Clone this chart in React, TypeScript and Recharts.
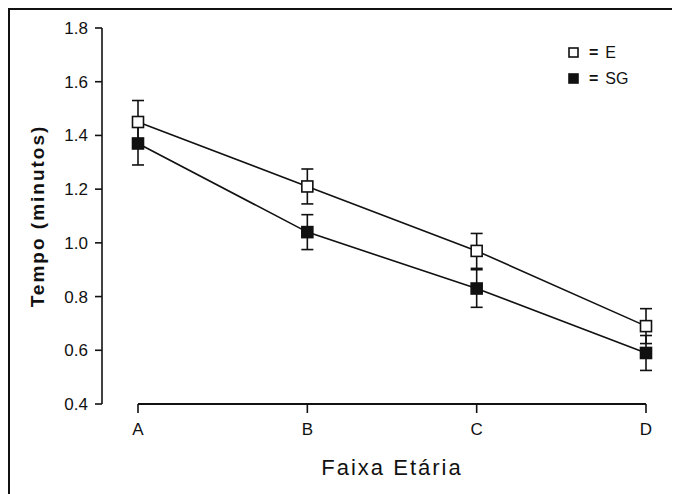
import React from "react";
import {
  LineChart,
  Line,
  XAxis,
  YAxis,
  ErrorBar,
  ReferenceLine,
} from "recharts";

// age groups along the x axis
const categories = ["A", "B", "C", "D"];
// mean time (minutes) and error for each group
const valuesE = [1.45, 1.21, 0.97, 0.69];
const errorsE = [0.08, 0.065, 0.065, 0.065];
const valuesSG = [1.37, 1.04, 0.83, 0.59];
const errorsSG = [0.08, 0.065, 0.07, 0.065];
const yTicks = [0.4, 0.6, 0.8, 1.0, 1.2, 1.4, 1.6, 1.8];
const seriesNames = ["E", "SG"];

const data = categories.map((c, i) => ({
  idx: i,
  name: c,
  E: valuesE[i],
  errE: errorsE[i],
  SG: valuesSG[i],
  errSG: errorsSG[i],
}));

const INK = "#111";
const FONT = "'Liberation Sans', Arial, sans-serif";

const SquareDot = (filled: boolean) => (props: any) => {
  const { cx, cy } = props;
  if (cx == null || cy == null) return null;
  const s = 11;
  return (
    <rect
      x={cx - s / 2}
      y={cy - s / 2}
      width={s}
      height={s}
      fill={filled ? INK : "#fff"}
      stroke={INK}
      strokeWidth={1.6}
    />
  );
};

// legend in the upper right corner
const LegendBox = () => (
  <div
    style={{
      position: "absolute",
      top: 30,
      left: 558,
      fontFamily: FONT,
      fontSize: 16,
      color: INK,
      lineHeight: "26px",
    }}
  >
    {seriesNames.map((label, i) => (
      <div key={label} style={{ display: "flex", alignItems: "center" }}>
        <svg width={12} height={12} style={{ marginRight: 9 }}>
          <rect
            x={1}
            y={1}
            width={9}
            height={9}
            fill={i === 1 ? INK : "#fff"}
            stroke={INK}
            strokeWidth={1.6}
          />
        </svg>
        <span style={{ fontWeight: "bold", marginRight: 7 }}>=</span>
        <span>{label}</span>
      </div>
    ))}
  </div>
);

export default function App() {
  return (
    <div
      style={{
        position: "relative",
        width: 664,
        height: 490,
        borderTop: "2px solid #111",
        borderLeft: "2px solid #111",
        borderRight: "2px solid #111",
        background: "#fff",
      }}
    >
      <LineChart
        width={664}
        height={486}
        data={data}
        margin={{ top: 18, right: 28, bottom: 10, left: 30 }}
      >
        <XAxis
          dataKey="idx"
          type="number"
          domain={[-0.2126, 3]}
          ticks={[0, 1, 2, 3]}
          tickFormatter={(v: number) => categories[v] ?? ""}
          axisLine={false}
          tickLine={{ stroke: INK, strokeWidth: 1.6 }}
          tickSize={9}
          tickMargin={10}
          height={82}
          tick={{ fill: INK, fontSize: 17, fontFamily: FONT }}
          label={{
            value: "Faixa Etária",
            position: "insideBottom",
            offset: 11,
            dx: 18,
            style: { fill: INK, fontSize: 22, fontFamily: FONT, letterSpacing: 2 },
          }}
        />
        <YAxis
          type="number"
          domain={[0.4, 1.8]}
          ticks={yTicks}
          tickFormatter={(v: number) => v.toFixed(1)}
          axisLine={{ stroke: INK, strokeWidth: 1.6 }}
          tickLine={{ stroke: INK, strokeWidth: 1.6 }}
          tickSize={7}
          tickMargin={7}
          width={62}
          tick={{ fill: INK, fontSize: 17, fontFamily: FONT }}
          label={{
            value: "Tempo (minutos)",
            angle: -90,
            position: "insideLeft",
            offset: 0,
            dx: -3,
            style: {
              fill: INK,
              fontSize: 19,
              fontWeight: "bold",
              fontFamily: FONT,
              letterSpacing: 2,
              textAnchor: "middle",
            },
          }}
        />
        <ReferenceLine
          segment={[
            { x: 0, y: 0.4 },
            { x: 3, y: 0.4 },
          ]}
          stroke={INK}
          strokeWidth={2}
          ifOverflow="visible"
        />
        <Line
          dataKey="SG"
          stroke={INK}
          strokeWidth={1.6}
          dot={SquareDot(true)}
          activeDot={false}
          isAnimationActive={false}
        >
          <ErrorBar dataKey="errSG" direction="y" width={6} stroke={INK} strokeWidth={1.6} />
        </Line>
        <Line
          dataKey="E"
          stroke={INK}
          strokeWidth={1.6}
          dot={SquareDot(false)}
          activeDot={false}
          isAnimationActive={false}
        >
          <ErrorBar dataKey="errE" direction="y" width={6} stroke={INK} strokeWidth={1.6} />
        </Line>
      </LineChart>
      <LegendBox />
    </div>
  );
}
